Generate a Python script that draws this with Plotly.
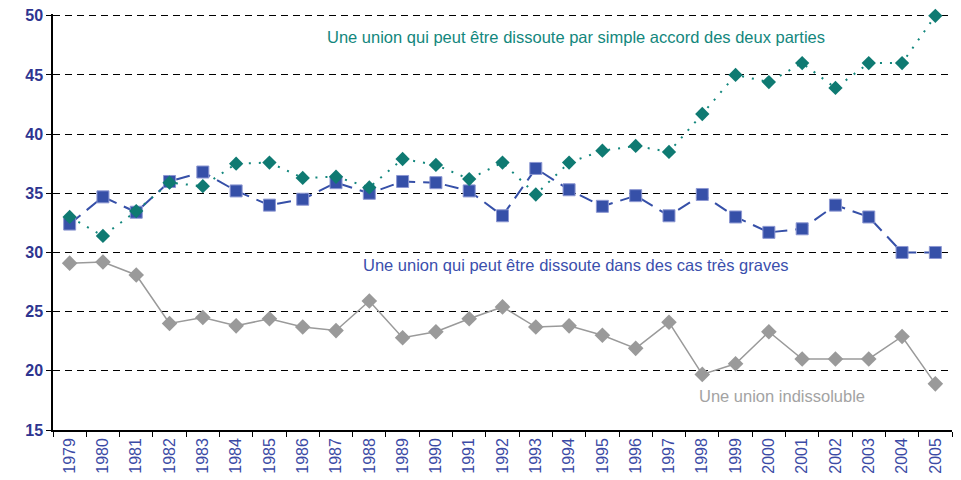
import plotly.graph_objects as go

years = [str(y) for y in range(1979, 2006)]
accord = [33.0, 31.4, 33.5, 35.9, 35.6, 37.5, 37.6, 36.3, 36.4, 35.5, 37.9, 37.4, 36.2,
          37.6, 34.9, 37.6, 38.6, 39.0, 38.5, 41.7, 45.0, 44.4, 46.0, 43.9, 46.0, 46.0, 50.0]
graves = [32.4, 34.7, 33.4, 36.0, 36.8, 35.2, 34.0, 34.5, 35.9, 35.0, 36.0, 35.9, 35.2,
          33.1, 37.1, 35.3, 33.9, 34.8, 33.1, 34.9, 33.0, 31.7, 32.0, 34.0, 33.0, 30.0, 30.0]
indiss = [29.1, 29.2, 28.1, 24.0, 24.5, 23.8, 24.4, 23.7, 23.4, 25.9, 22.8, 23.3, 24.4,
          25.4, 23.7, 23.8, 23.0, 21.9, 24.1, 19.7, 20.6, 23.3, 21.0, 21.0, 21.0, 22.9, 18.9]
y_ticks = [15, 20, 25, 30, 35, 40, 45, 50]

label_accord = "Une union qui peut être dissoute par simple accord des deux parties"
label_graves = "Une union qui peut être dissoute dans des cas très graves"
label_indiss = "Une union indissoluble"

FONT = "Liberation Sans, Arial, sans-serif"
TEAL = "#13877d"
BLUE = "#3650a8"
GRAY = "#9a9a9a"

fig = go.Figure()
fig.add_trace(go.Scatter(
    x=years, y=indiss, mode="lines+markers", name=label_indiss,
    line=dict(color=GRAY, width=1.5),
    marker=dict(symbol="diamond", size=12, color=GRAY), cliponaxis=False))
fig.add_trace(go.Scatter(
    x=years, y=graves, mode="lines+markers", name=label_graves,
    line=dict(color=BLUE, width=2, dash="14px,8px"),
    marker=dict(symbol="square", size=12, color=BLUE, line=dict(color="#8c97d2", width=1)),
    cliponaxis=False))
fig.add_trace(go.Scatter(
    x=years, y=accord, mode="lines+markers", name=label_accord,
    line=dict(color=TEAL, width=2, dash="2px,8px"),
    marker=dict(symbol="diamond", size=11, color="#0f7a72"), cliponaxis=False))

fig.add_annotation(x=15.2, y=48.2, xref="x", yref="y", text=label_accord, showarrow=False,
                   font=dict(family=FONT, size=16.5, color=TEAL))
fig.add_annotation(x=15.2, y=28.9, xref="x", yref="y", text=label_graves, showarrow=False,
                   font=dict(family=FONT, size=16.5, color="#3b4fad"))
fig.add_annotation(x=21.4, y=17.85, xref="x", yref="y", text=label_indiss, showarrow=False,
                   font=dict(family=FONT, size=16.5, color="#a3a3a3"))

fig.update_layout(
    width=961, height=480,
    margin=dict(l=45, r=17, t=6, b=58, autoexpand=False),
    paper_bgcolor="white", plot_bgcolor="white",
    showlegend=False,
    font=dict(family=FONT),
)
fig.update_xaxes(
    type="category", range=[-0.5, 26.5], automargin=False,
    tickangle=-90, tickfont=dict(family=FONT, size=16, color="#3b4aa5"),
    showline=True, linecolor="black", linewidth=1.5,
    ticks="outside", tickson="boundaries", ticklen=5, tickcolor="black",
    showgrid=False, zeroline=False, ticklabeloverflow="allow",
)
fig.update_yaxes(
    range=[15, 50.15], tickvals=y_ticks, automargin=False,
    tickfont=dict(family=FONT, size=16, color="#2e3590", weight="bold"),
    showline=True, linecolor="black", linewidth=1.5,
    ticks="outside", ticklen=5, tickcolor="black",
    showgrid=True, gridcolor="black", gridwidth=1, griddash="7px,5px",
    zeroline=False, ticklabeloverflow="allow",
)

fig.write_html("out.html")
